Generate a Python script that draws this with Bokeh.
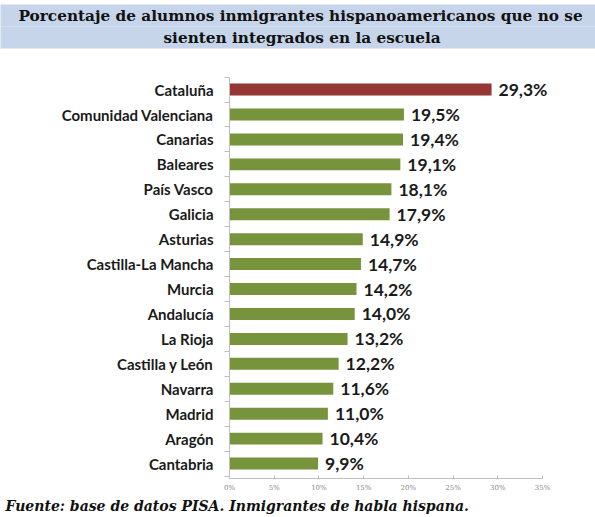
from bokeh.plotting import figure
from bokeh.models import ColumnDataSource, LabelSet, FixedTicker, Range1d, Title
from bokeh.core.properties import value
from bokeh.embed import file_html
from bokeh.resources import INLINE

regions = ["Cataluña", "Comunidad Valenciana", "Canarias", "Baleares", "País Vasco",
           "Galicia", "Asturias", "Castilla-La Mancha", "Murcia", "Andalucía",
           "La Rioja", "Castilla y León", "Navarra", "Madrid", "Aragón", "Cantabria"]
values = [29.3, 19.5, 19.4, 19.1, 18.1, 17.9, 14.9, 14.7, 14.2, 14.0,
          13.2, 12.2, 11.6, 11.0, 10.4, 9.9]
highlight = "Cataluña"
x_ticks = [0, 5, 10, 15, 20, 25, 30, 35]
x_tick_labels = ["0%", "5%", "10%", "15%", "20%", "25%", "30%", "35%"]
title_line1 = "Porcentaje de alumnos inmigrantes hispanoamericanos que no se"
title_line2 = "sienten integrados en la escuela"
source_note = "Fuente: base de datos PISA. Inmigrantes de habla hispana."

GREEN = "#77933C"
RED = "#953735"
AXIS = "#bfbfbf"
TITLE_BG = "#c6d5e9"

n = len(regions)
ypos = [n - 1 - i for i in range(n)]
colors = [RED if r == highlight else GREEN for r in regions]
labels = [f"{v:.1f}".replace(".", ",") + "%" for v in values]

src = ColumnDataSource(dict(y=ypos, v=values, color=colors, lbl=labels, name=regions))

W, H = 595, 517
LEFT, RIGHT, TOP, BOTTOM = 229, 44, 50, 39
Y_BOTTOM = -0.6
Y_TOP = Y_BOTTOM + (H - TOP - BOTTOM) / 24.93   # empty space above the first bar

p = figure(width=W, height=H, output_backend="svg", toolbar_location=None,
           x_range=Range1d(0, 36), y_range=Range1d(Y_BOTTOM, Y_TOP),
           min_border_left=LEFT, min_border_right=RIGHT,
           min_border_top=TOP, min_border_bottom=BOTTOM)
p.title.visible = False
p.outline_line_color = None
p.xgrid.visible = False
p.ygrid.visible = False
p.background_fill_color = "white"
p.border_fill_color = "white"

p.hbar(y="y", left=0, right="v", height=0.48, fill_color="color",
       line_color=None, source=src)

# y axis
yax = p.yaxis[0]
yax.ticker = FixedTicker(ticks=ypos, minor_ticks=[k + 0.5 for k in range(-1, n)])
yax.bounds = (Y_BOTTOM, n - 0.5)
yax.major_label_overrides = {y: r for y, r in zip(ypos, regions)}
yax.major_tick_line_color = None
yax.major_tick_out = 0
yax.major_tick_in = 0
yax.minor_tick_line_color = AXIS
yax.minor_tick_out = 5
yax.minor_tick_in = 0
yax.axis_line_color = AXIS
yax.major_label_standoff = 11
yax.major_label_text_font = "Lato"
yax.major_label_text_font_style = "bold"
yax.major_label_text_font_size = "15px"
yax.major_label_text_color = "#1a1a1a"

# x axis
xax = p.xaxis[0]
xax.ticker = FixedTicker(ticks=x_ticks)
xax.bounds = (0, 35)
xax.major_label_overrides = {t: l for t, l in zip(x_ticks, x_tick_labels)}
xax.major_tick_in = 3
xax.major_tick_out = 0
xax.major_tick_line_color = AXIS
xax.minor_tick_line_color = None
xax.axis_line_color = AXIS
xax.major_label_text_font = "DejaVu Serif"
xax.major_label_text_font_size = "7px"
xax.major_label_text_color = "#888888"
xax.major_label_standoff = 5

p.add_layout(LabelSet(x="v", y="y", text="lbl", source=src, x_offset=7,
                      text_baseline="middle", text_align="left",
                      text_font=value("Lato"), text_font_style="bold",
                      text_font_size="17.5px", text_color="#1a1a1a"))

title_style = dict(align="left", offset=-LEFT, standoff=0,
                   text_font="DejaVu Serif", text_font_style="bold",
                   text_font_size="15.3px", text_color="#111111",
                   background_fill_color=TITLE_BG)
# the nearer line is added first; later titles stack above it
p.add_layout(Title(text=title_line2, padding=(163, 2), vertical_align="top",
                   **title_style), "above")
p.add_layout(Title(text=title_line1, padding=(18, 2), vertical_align="bottom",
                   **title_style), "above")

footer = Title(text=source_note, align="left", offset=5 - LEFT,
               text_font="DejaVu Serif", text_font_style="bold italic",
               text_font_size="14px", text_color="#111111", standoff=3)
p.add_layout(footer, "below")

open("out.html", "w").write(file_html(p, INLINE))
